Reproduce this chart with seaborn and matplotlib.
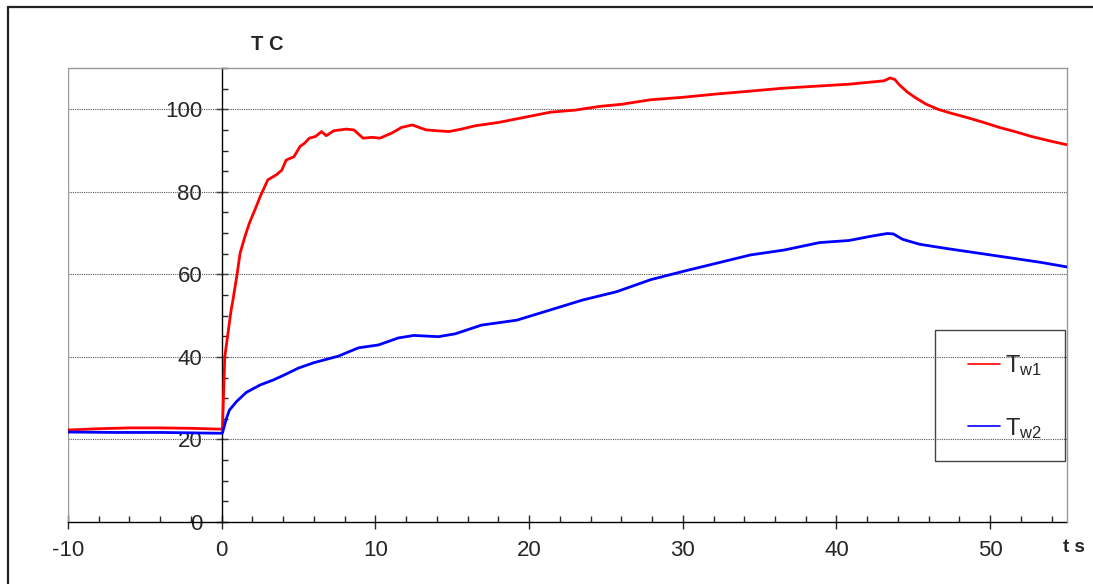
import numpy as np
import pandas as pd
import matplotlib
matplotlib.use("Agg")
import matplotlib.pyplot as plt
from matplotlib.lines import Line2D
from matplotlib.patches import Rectangle
from matplotlib.ticker import MultipleLocator
import seaborn as sns

# values
t_w1 = [-10, -8, -6, -4, -2, -0.1, 0.05, 0.2, 0.4, 0.6, 0.75, 1.0, 1.2, 1.5,
        1.8, 2.2, 2.5, 3.0, 3.55, 3.9, 4.2, 4.7, 5.1, 5.4, 5.7, 6.1, 6.5, 6.8,
        7.3, 8.1, 8.6, 9.2, 9.8, 10.3, 11.1, 11.7, 12.4, 13.3, 14.0, 14.8,
        15.6, 16.5, 18.0, 19.5, 21.4, 23.0, 24.6, 26.0, 27.9, 30.0, 32.2,
        34.4, 36.5, 38.7, 40.9, 43.1, 43.5, 43.8, 44.1, 44.6, 45.1, 45.8,
        46.6, 47.5, 48.4, 49.5, 50.6, 51.6, 52.7, 53.8, 55.0]
temp_w1 = [22.3, 22.6, 22.8, 22.8, 22.7, 22.5, 22.6, 40.0, 45.5, 51.0, 54.2,
           60.0, 65.2, 69.0, 72.4, 76.0, 78.8, 82.9, 84.1, 85.2, 87.7, 88.5,
           91.0, 91.8, 93.0, 93.4, 94.6, 93.6, 94.8, 95.2, 95.0, 93.0, 93.2,
           93.0, 94.3, 95.6, 96.2, 95.0, 94.8, 94.6, 95.2, 96.0, 96.8, 97.9,
           99.3, 99.8, 100.7, 101.2, 102.3, 102.9, 103.7, 104.4, 105.1, 105.6,
           106.1, 106.9, 107.6, 107.2, 105.9, 104.2, 102.9, 101.3, 100.0,
           99.0, 98.1, 96.9, 95.6, 94.6, 93.4, 92.4, 91.4]

t_w2 = [-10, -7, -4, -2, -0.1, 0.05, 0.3, 0.5, 0.97, 1.6, 2.5, 3.35, 4.0,
        5.0, 6.0, 7.6, 8.9, 10.2, 11.5, 12.5, 14.1, 15.2, 16.9, 19.2, 21.4,
        23.5, 25.7, 27.9, 30.0, 32.2, 34.4, 36.6, 38.9, 40.8, 42.2, 43.3,
        43.7, 44.3, 45.4, 47.1, 49.3, 51.5, 53.3, 55.0]
temp_w2 = [21.8, 21.7, 21.7, 21.6, 21.5, 21.6, 25.0, 27.1, 29.2, 31.4, 33.2,
           34.4, 35.5, 37.3, 38.6, 40.2, 42.2, 42.9, 44.6, 45.2, 44.9, 45.6,
           47.7, 48.9, 51.4, 53.8, 55.8, 58.7, 60.7, 62.7, 64.7, 65.9, 67.7,
           68.2, 69.2, 69.9, 69.8, 68.5, 67.3, 66.3, 65.1, 63.9, 62.9, 61.8]

series_names = ["Tw1", "Tw2"]
series_labels = [r"$\mathregular{T_{w1}}$", r"$\mathregular{T_{w2}}$"]
series_colors = ["#ff0000", "#0000ff"]

df = pd.concat([
    pd.DataFrame({"t": t_w1, "T": temp_w1, "series": series_names[0]}),
    pd.DataFrame({"t": t_w2, "T": temp_w2, "series": series_names[1]}),
])

sns.set_style("white")
plt.rcParams["font.family"] = ["Liberation Sans", "DejaVu Sans"]
plt.rcParams["mathtext.default"] = "regular"
plt.rcParams["axes.unicode_minus"] = False

fig = plt.figure(figsize=(10.93, 5.84), dpi=100)
ax = fig.add_axes([68 / 1093, 62 / 584, 999 / 1093, 454 / 584])

# grid first so it stays under the curves
for g in range(20, 101, 20):
    ax.axhline(g, color="#555555", lw=0.8, ls=(0, (1, 1)), zorder=1)
ax.axvline(-10, color="#999999", lw=1, zorder=1)

sns.lineplot(data=df, x="t", y="T", hue="series", palette=series_colors,
             estimator=None, legend=False, lw=2.0, ax=ax, zorder=3)

ax.set_xlim(-10, 55)
ax.set_ylim(0, 110)
ax.set_xlabel("")
ax.set_ylabel("")

ax.spines["left"].set_position(("data", 0))
ax.spines["left"].set_color("black")
ax.spines["bottom"].set_color("black")
for s in ["top", "right"]:
    ax.spines[s].set_color("#999999")
    ax.spines[s].set_linewidth(1)
for s in ["left", "bottom"]:
    ax.spines[s].set_linewidth(1)
    ax.spines[s].set_zorder(2)

ax.set_xticks(range(-10, 51, 10))
ax.set_yticks(range(0, 101, 20))
ax.xaxis.set_minor_locator(MultipleLocator(2))
ax.yaxis.set_minor_locator(MultipleLocator(5))
ax.tick_params(axis="y", which="major", direction="inout", length=8, width=1,
               pad=10, labelsize=16, left=True)
ax.tick_params(axis="y", which="minor", direction="in", length=4, width=1, left=True)
ax.tick_params(axis="x", which="major", direction="inout", length=10, width=1,
               pad=8, labelsize=16, bottom=True)
ax.tick_params(axis="x", which="minor", direction="in", length=4.5, width=1, bottom=True)

# legend box
ax.add_patch(Rectangle((867 / 999, (522 - 461) / 454), 130 / 999, 131 / 454,
                       transform=ax.transAxes, fill=False, edgecolor="#444444",
                       lw=1, zorder=4, clip_on=False))
handles = [Line2D([], [], color=c, lw=1.2) for c in series_colors]
ax.legend(handles, series_labels, loc="center left",
          bbox_to_anchor=(900 / 999, (522 - 397) / 454), frameon=False,
          fontsize=17, borderpad=0, borderaxespad=0, handlelength=1.35,
          handletextpad=0.2, labelspacing=1.58)

fig.text(267 / 1093, 1 - 45 / 584, "T C", fontsize=14.5, fontweight="bold",
         ha="center", va="center")
fig.text(1074 / 1093, 1 - 548 / 584, "t s", fontsize=13.5, fontweight="bold",
         ha="center", va="center")

# outer frame (top and left only)
fig.add_artist(Line2D([8 / 1093, 1], [1 - 7 / 584, 1 - 7 / 584],
                      transform=fig.transFigure, color="#222222", lw=1.6))
fig.add_artist(Line2D([8 / 1093, 8 / 1093], [0, 1 - 7 / 584],
                      transform=fig.transFigure, color="#222222", lw=1.6))

fig.savefig("out.png", dpi=100)
